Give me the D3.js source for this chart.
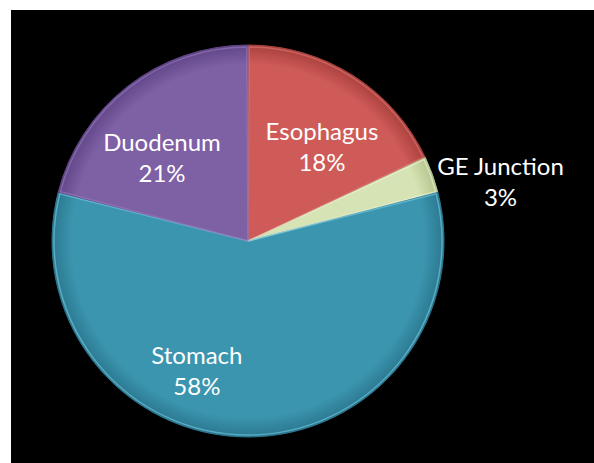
<!DOCTYPE html>
<html>
<head>
<meta charset="utf-8">
<script src="https://cdn.jsdelivr.net/npm/d3@7"></script>
<style>
  html, body { margin: 0; padding: 0; background: #ffffff; }
  svg { display: block; }
</style>
</head>
<body>
<svg id="chart" width="594" height="463"></svg>
<script>
// ---- data ----
const categories = ["Esophagus", "GE Junction", "Stomach", "Duodenum"];
const values = [18, 3, 58, 21];
const percentLabels = ["18%", "3%", "58%", "21%"];

// ---- styles ----
const sliceColors = ["#cf5b58", "#d6e3b4", "#3b95ae", "#7e60a5"];
const sliceDark = ["#a9403d", "#b4c48e", "#2b7890", "#604688"];
const sliceLight = ["#e07d7a", "#f3f8de", "#7dd3ea", "#9d80c0"];
// label placement: [angle in degrees clockwise from top, radius]
const labelPlacement = [[37.3, 122], [76.2, 260], [201.9, 137], [-45, 121.6]];

const W = 594, H = 463;
const cx = 248, cy = 241, R = 196;

const svg = d3.select("#chart");
svg.append("rect").attr("x", 11).attr("y", 10).attr("width", W - 11).attr("height", H - 10).attr("fill", "#000");

const defs = svg.append("defs");
sliceColors.forEach((c, i) => {
  const g = defs.append("radialGradient").attr("id", "grad" + i)
    .attr("gradientUnits", "userSpaceOnUse")
    .attr("cx", 0).attr("cy", 0).attr("r", R);
  g.append("stop").attr("offset", "0%").attr("stop-color", c);
  g.append("stop").attr("offset", "90%").attr("stop-color", c);
  g.append("stop").attr("offset", "100%").attr("stop-color", sliceDark[i]);
});

const pie = d3.pie().sort(null).value(d => d);
const arcs = pie(values);
const arc = d3.arc().innerRadius(0).outerRadius(R);

const g = svg.append("g").attr("transform", `translate(${cx},${cy})`);

g.selectAll("path.slice").data(arcs).enter().append("path")
  .attr("class", "slice")
  .attr("d", arc)
  .attr("fill", (d, i) => `url(#grad${i})`)
  .attr("stroke", (d, i) => sliceDark[i])
  .attr("stroke-width", 1);

// subtle bevel highlight inside each slice edge
const bevel = d3.arc().innerRadius(0).outerRadius(R - 2);
g.selectAll("path.bevel").data(arcs).enter().append("path")
  .attr("class", "bevel")
  .attr("d", d => bevel({ ...d, startAngle: d.startAngle + 0.006, endAngle: d.endAngle - 0.006 }))
  .attr("fill", "none")
  .attr("stroke", (d, i) => sliceLight[i])
  .attr("stroke-width", 1.5)
  .attr("stroke-opacity", 0.55);

const lines = g.selectAll("text.label").data(arcs).enter().append("text")
  .attr("class", "label")
  .attr("text-anchor", "middle")
  .attr("fill", "#ffffff")
  .attr("font-family", "Lato, 'Open Sans', sans-serif")
  .attr("font-size", 24)
  .attr("transform", (d, i) => {
    const a = labelPlacement[i][0] * Math.PI / 180, r = labelPlacement[i][1];
    return `translate(${r * Math.sin(a)},${-r * Math.cos(a)})`;
  });
lines.append("tspan").attr("x", 0).attr("y", -4).text((d, i) => categories[i]);
lines.append("tspan").attr("x", 0).attr("y", 27).text((d, i) => percentLabels[i]);
</script>
</body>
</html>
